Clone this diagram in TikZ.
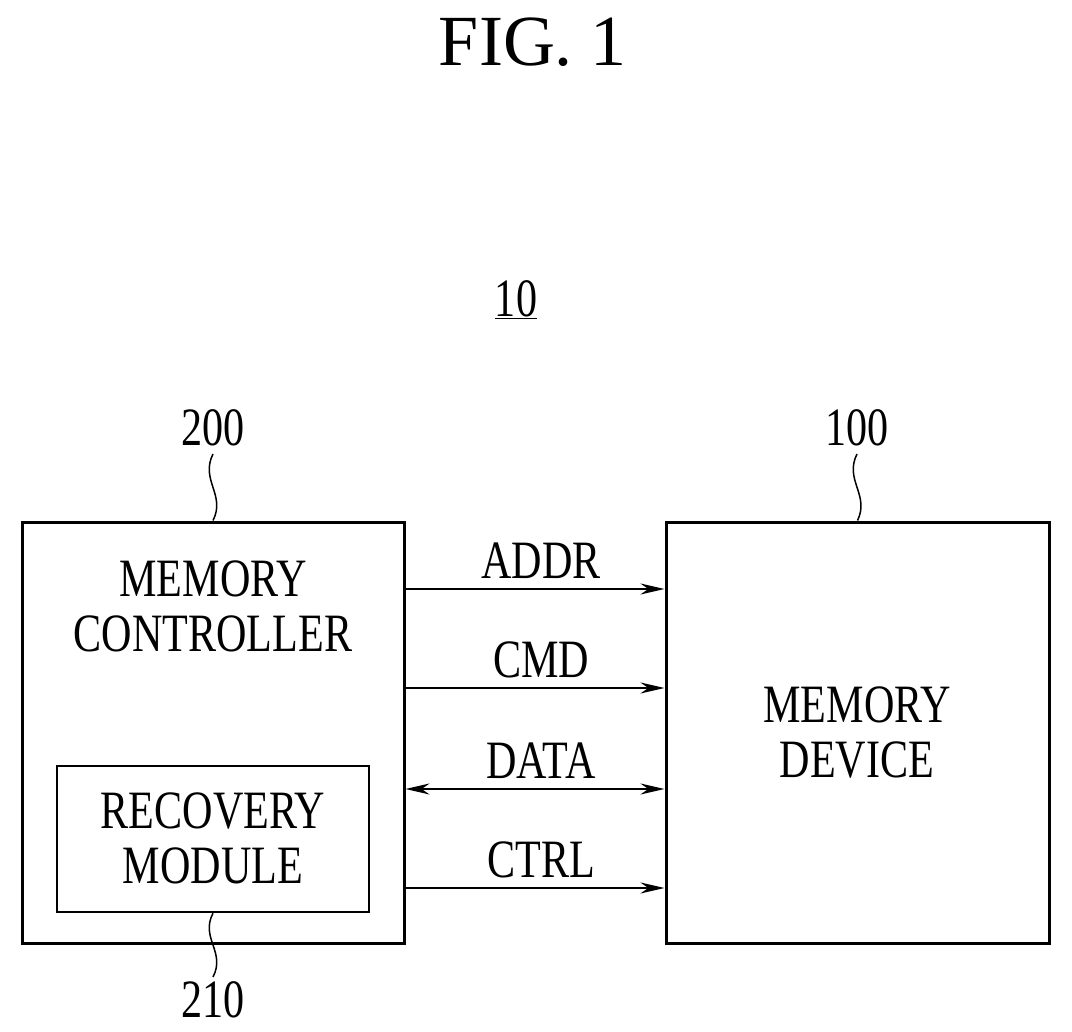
\documentclass[tikz,border=0pt]{standalone}
\usepackage{fontspec}
\setmainfont{Liberation Serif}
\newfontfamily\narrow{Liberation Serif}[FakeStretch=0.78]
\usetikzlibrary{arrows.meta}
\begin{document}
\begin{tikzpicture}[x=1pt,y=-1pt,
  box/.style={draw,line width=3pt,inner sep=0pt},
  lbl/.style={font=\narrow\fontsize{54}{55}\selectfont,align=center,inner sep=0pt},
  sig/.style={line width=1.8pt,-{Stealth[length=24pt,width=11pt]}},
  lead/.style={line width=1.5pt}]
\useasboundingbox (0,0) rectangle (1072,1032);
\node[font=\fontsize{72}{72}\selectfont,inner sep=0pt] (fig) at (533,42) {FIG. 1};
\node[lbl] (ten) at (516,300) {\underline{10}};
\node[box,minimum width=382pt,minimum height=421pt] (mc) at (213,732.5) {};
\node[box,minimum width=312pt,minimum height=146pt,line width=2.5pt] (rm) at (213,839) {};
\node[box,minimum width=383pt,minimum height=421pt] (md) at (857.5,732.5) {};
\node[lbl] (mct) at (213,606) {MEMORY\\CONTROLLER};
\node[lbl] (rmt) at (213,838) {RECOVERY\\MODULE};
\node[lbl] (mdt) at (857,733) {MEMORY\\DEVICE};
\node[lbl] (n200) at (213,428) {200};
\node[lbl] (n100) at (857,428) {100};
\node[lbl] (n210) at (213,1000) {210};
\coordinate (t200) at (213,454);
\coordinate (t100) at (857,454);
\coordinate (t210) at (213,977);
\draw[lead] (t200) .. controls (200,480) and (226,495) .. (mc.north);
\draw[lead] (t100) .. controls (844,480) and (870,495) .. (md.north);
\draw[lead] (rm.south) .. controls (200,938) and (226,952) .. (t210);
\foreach \y/\t/\nm in {589/ADDR/a,688/CMD/c,789/DATA/d,888/CTRL/r} {
  \coordinate (s\nm) at (mc.east |- 0,\y);
  \coordinate (e\nm) at (md.west |- 0,\y);
  \node[lbl,anchor=south] (l\nm) at (541,\y-10) {\t};
}
\draw[sig] (sa) -- (ea);
\draw[sig] (sc) -- (ec);
\draw[sig,{Stealth[length=24pt,width=11pt]}-{Stealth[length=24pt,width=11pt]}] (sd) -- (ed);
\draw[sig] (sr) -- (er);
\end{tikzpicture}
\end{document}
